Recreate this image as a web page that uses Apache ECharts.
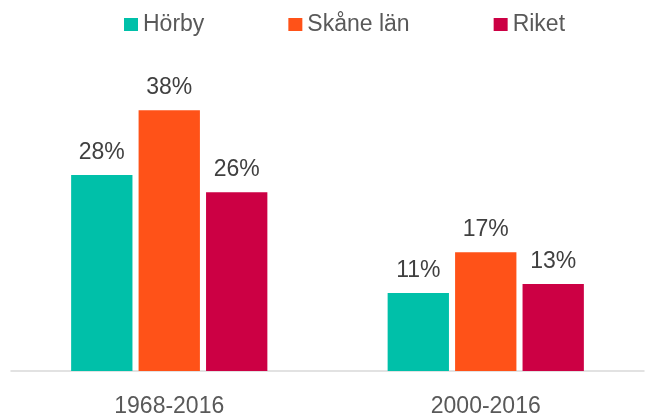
<!DOCTYPE html>
<html>
<head>
<meta charset="utf-8">
<script src="https://cdn.jsdelivr.net/npm/echarts@6/dist/echarts.min.js"></script>
<style>html,body{margin:0;padding:0;background:#fff}#c{width:645px;height:420px}</style>
</head>
<body>
<div id="c"></div>
<script>
var categories = ['1968-2016', '2000-2016'];
var seriesNames = ['Hörby', 'Skåne län', 'Riket'];
var horby = [28.4, 11.3];
var skane = [37.8, 17.2];
var riket = [25.9, 12.6];
var colors = ['#00C0A9', '#FF5218', '#CC0044'];

var chart = echarts.init(document.getElementById('c'), null, {renderer: 'canvas'});
var font = 'Liberation Sans, Arial, sans-serif';
function mk(name, data, color) {
  return {
    name: name, type: 'bar', data: data,
    barGap: '10%', barCategoryGap: '38%',
    itemStyle: {color: color},
    label: {show: true, position: 'top', distance: 11, color: '#404040', fontSize: 23, fontFamily: font,
      formatter: function (p) { return Math.round(p.value) + '%'; }}
  };
}
chart.setOption({
  animation: false,
  legend: {
    top: 8, left: 119, itemWidth: 14, itemHeight: 13, itemGap: 84, icon: 'rect',
    textStyle: {color: '#595959', fontSize: 23, fontFamily: font},
    data: seriesNames
  },
  grid: {left: 11, right: 1, top: 60.5, bottom: 49, containLabel: false},
  xAxis: {
    type: 'category', data: categories,
    axisLine: {lineStyle: {color: '#D9D9D9', width: 1.5}},
    axisTick: {show: false},
    axisLabel: {color: '#595959', fontSize: 23, fontFamily: font, margin: 24}
  },
  yAxis: {type: 'value', min: 0, max: 45, show: false, splitLine: {show: false}},
  series: [mk(seriesNames[0], horby, colors[0]), mk(seriesNames[1], skane, colors[1]), mk(seriesNames[2], riket, colors[2])]
});
</script>
</body>
</html>
